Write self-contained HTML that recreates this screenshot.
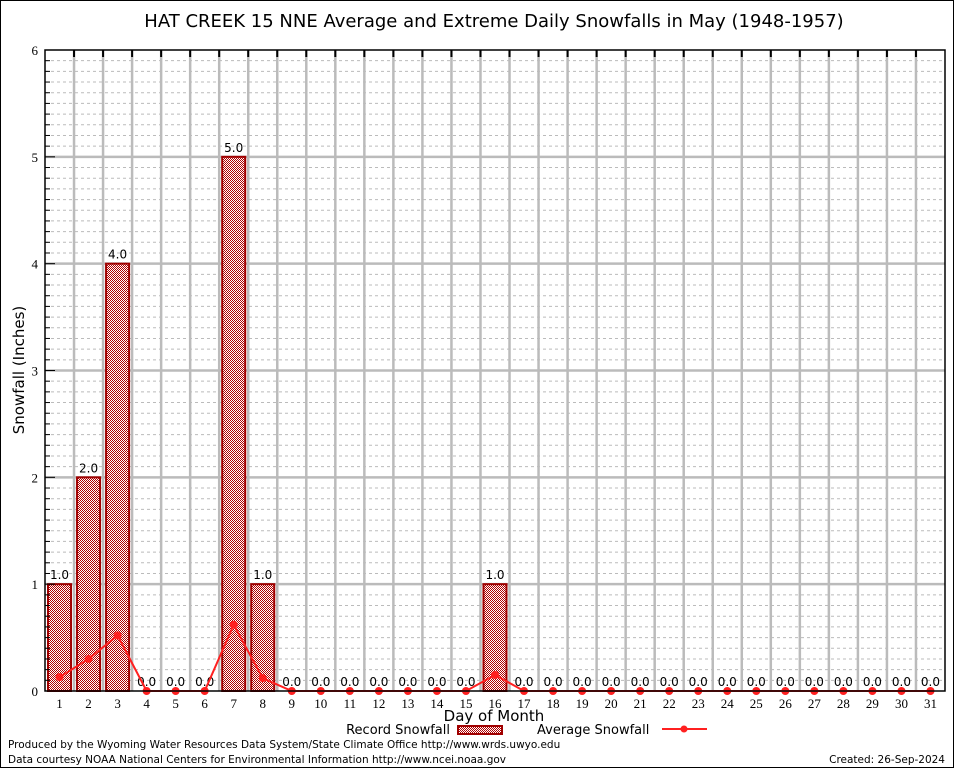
<!DOCTYPE html>
<html><head><meta charset="utf-8"><style>
body{margin:0;background:#fff}
svg{display:block;font-family:"DejaVu Sans","Liberation Sans",sans-serif}
</style></head><body>
<svg id="chart" width="954" height="768" viewBox="0 0 954 768">
<defs>
<pattern id="chk" width="2" height="2" patternUnits="userSpaceOnUse">
<rect width="2" height="2" fill="#fff"/><rect width="1" height="1" fill="#b00000"/><rect x="1" y="1" width="1" height="1" fill="#b00000"/>
</pattern>
</defs>
<rect x="0.5" y="0.5" width="953" height="767" fill="#fff" stroke="#000"/>
<text x="494" y="27" font-size="18" text-anchor="middle" fill="#000">HAT CREEK 15 NNE Average and Extreme Daily Snowfalls in May (1948-1957)</text>
<g id="grid"></g>
<g id="bars"></g>
<g id="avg"></g>
<g id="axes"></g>
<text transform="translate(24,370) rotate(-90)" font-size="15" text-anchor="middle">Snowfall (Inches)</text>
<text x="494" y="721" font-size="15" text-anchor="middle">Day of Month</text>
<g>
<text x="450" y="734" font-size="13" text-anchor="end">Record Snowfall</text>
<rect x="458" y="726" width="44" height="8" fill="url(#chk)" stroke="#a00000" stroke-width="2"/>
</g>
<g>
<text x="537" y="734" font-size="13">Average Snowfall</text>
<line x1="662" y1="729" x2="707" y2="729" stroke="#ff2020" stroke-width="2"/>
<circle cx="684" cy="729" r="3.5" fill="#ff2020"/>
</g>
<text x="8" y="748" font-size="10.5">Produced by the Wyoming Water Resources Data System/State Climate Office http://www.wrds.uwyo.edu</text>
<text x="8" y="763" font-size="10.5">Data courtesy NOAA National Centers for Environmental Information http://www.ncei.noaa.gov</text>
<text x="945" y="763" font-size="10.5" text-anchor="end">Created:  26-Sep-2024</text>
</svg>
<script>
const days=[1,2,3,4,5,6,7,8,9,10,11,12,13,14,15,16,17,18,19,20,21,22,23,24,25,26,27,28,29,30,31];
const recordSnow=[1,2,4,0,0,0,5,1,0,0,0,0,0,0,0,1,0,0,0,0,0,0,0,0,0,0,0,0,0,0,0];
const avgSnow=[0.13,0.3,0.52,0,0,0,0.62,0.12,0,0,0,0,0,0,0,0.15,0,0,0,0,0,0,0,0,0,0,0,0,0,0,0];
const yTicks=[0,1,2,3,4,5,6];
const NS="http://www.w3.org/2000/svg";
const L=45,R=945,T=50,B=691,yMax=6;
const dw=(R-L)/days.length;
const xs=d=>L+(d-0.5)*dw;
const ys=v=>B-(v/yMax)*(B-T);
function mk(tag,attrs,parent){const e=document.createElementNS(NS,tag);for(const k in attrs)e.setAttribute(k,attrs[k]);parent.appendChild(e);return e;}
const grid=document.getElementById('grid'),bars=document.getElementById('bars'),avg=document.getElementById('avg'),axes=document.getElementById('axes');
for(let i=1;i<yMax*10;i++){if(i%10===0)continue;const y=ys(i/10);
const g=mk('line',{x1:L,x2:R,y1:y,y2:y,stroke:'#bbb','stroke-dasharray':'3,3','stroke-width':1},grid);


const t=mk('line',{x1:L,x2:L+5,y1:y,y2:y,stroke:'#000'},axes);

}
yTicks.forEach(v=>{const y=ys(v);
if(v>0&&v<yMax){const g=mk('line',{x1:L,x2:R,y1:y,y2:y,stroke:'#bbb','stroke-width':2.5},grid);

}
const t=mk('line',{x1:L,x2:L+10,y1:y,y2:y,stroke:'#000'},axes);


const lb=mk('text',{x:L-7,y:y+5,'font-size':13,'text-anchor':'end','font-family':'"Liberation Serif",serif'},axes);lb.textContent=v;

});
for(let i=1;i<days.length;i++){const x=L+i*dw;
const g=mk('line',{x1:x,x2:x,y1:T,y2:B,stroke:'#bbb','stroke-width':2.5},grid);


const t=mk('line',{x1:x,x2:x,y1:T,y2:T+7,stroke:'#000','stroke-width':2},axes);

}
days.forEach((d,i)=>{const x=xs(d);
const lb=mk('text',{x:x,y:708,'font-size':13,'text-anchor':'middle','font-family':'"Liberation Serif",serif'},axes);lb.textContent=d;


const v=recordSnow[i];
if(v>0){const y=ys(v);
const r=mk('rect',{x:L+i*dw+3,y:y,width:dw-6,height:B-y,fill:'url(#chk)',stroke:'#a00000','stroke-width':2},bars);

}
const vl=mk('text',{x:x,y:ys(v)-5,'font-size':12,'text-anchor':'middle'},bars);vl.textContent=v.toFixed(1);

});
const pts=days.map((d,i)=>xs(d)+','+ys(avgSnow[i])).join(' ');
const pl=mk('polyline',{points:pts,fill:'none',stroke:'#ff2020','stroke-width':2},avg);


days.forEach((d,i)=>{const c=mk('circle',{cx:xs(d),cy:ys(avgSnow[i]),r:4,fill:'#ff2020'},avg);

});
const box=mk('rect',{x:L,y:T,width:R-L,height:B-T,fill:'none',stroke:'#000','stroke-width':1.5},axes);


</script>
</body></html>
